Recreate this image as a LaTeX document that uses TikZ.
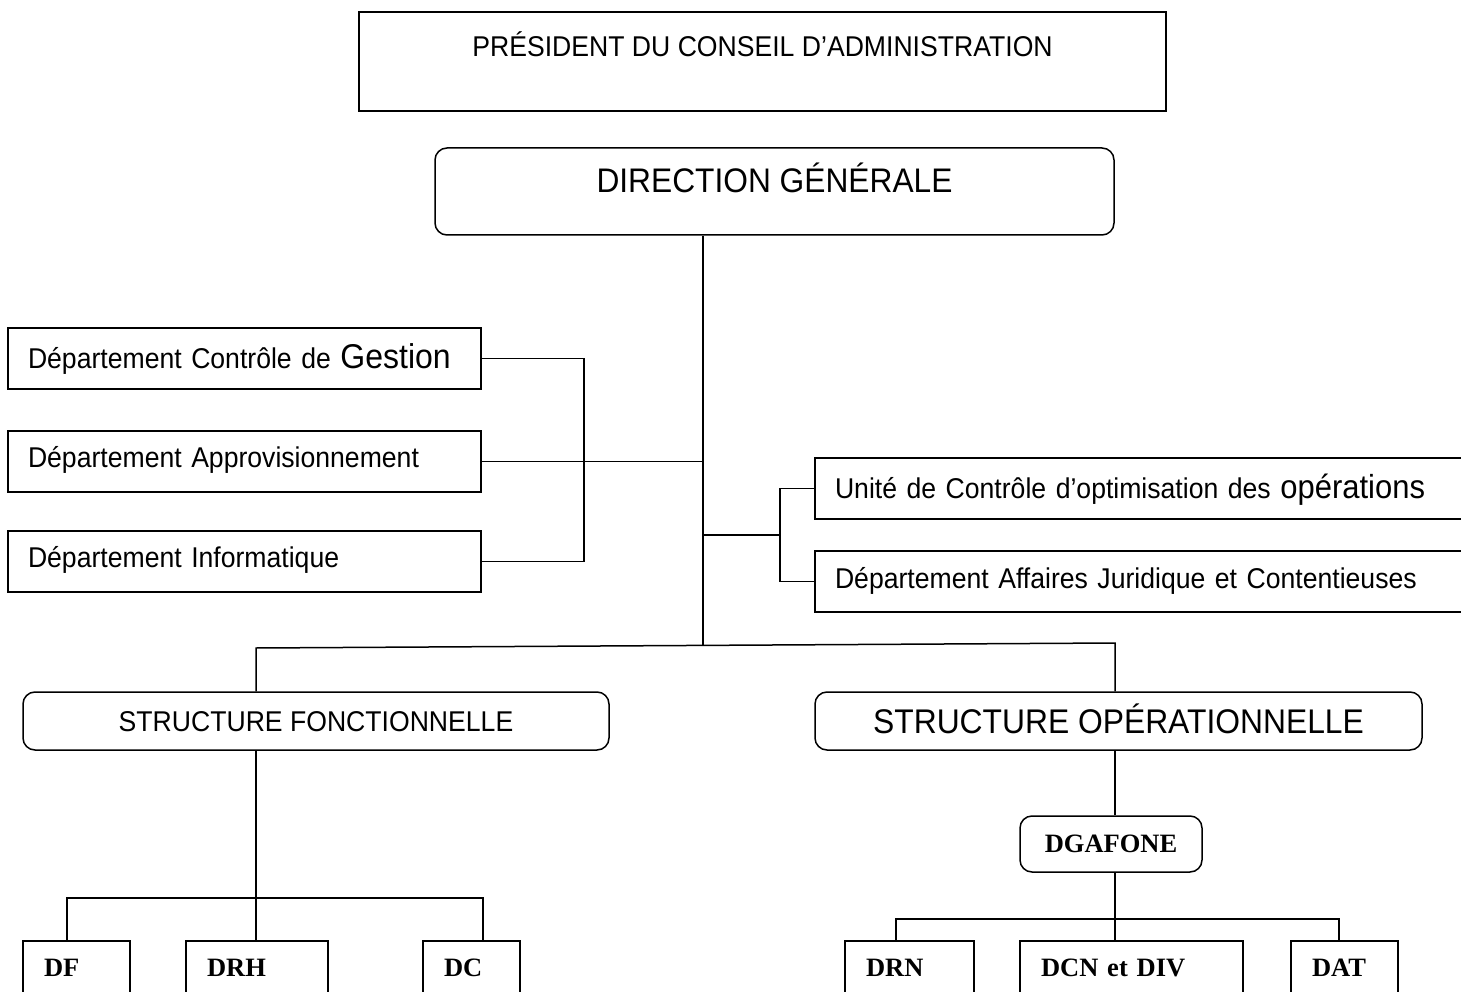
\documentclass[tikz,border=0pt]{standalone}
\usepackage{fontspec}
\setmainfont{Liberation Serif}
\setsansfont[FakeStretch=0.93]{Liberation Sans}
\usetikzlibrary{positioning,calc}

\tikzset{
  box/.style={draw, line width=1.5pt, inner sep=0pt, font=\sffamily\fontsize{28.6}{34}\selectfont, text height=20.5pt, text depth=0pt},
  rbox/.style={box, rounded corners=12pt},
  sidebox/.style={box, minimum height=61pt, text width=#1, align=left, inner xsep=20pt},
  dirbox/.style={draw, line width=1.5pt, inner sep=0pt, font=\bfseries\fontsize{26.5}{30}\selectfont, text height=17.5pt, text depth=0pt, minimum height=54pt, text width=#1, align=left, inner xsep=21pt},
  link/.style={line width=1.5pt},
}

\begin{document}
\begin{tikzpicture}[x=1pt, y=-1pt]

  \useasboundingbox (0,0) rectangle (1461,992);
  \clip (0,0) rectangle (1461,992);

  \node[box, minimum width=807pt, minimum height=99pt, text depth=31pt] (pca) at (762.5,61.5) {PRÉSIDENT DU CONSEIL D’ADMINISTRATION};
  \node[rbox, minimum width=679pt, minimum height=87pt, font=\sffamily\fontsize{34.1}{40}\selectfont, text height=24.4pt, text depth=22.7pt] (dg) at (774.5,191.5) {DIRECTION GÉNÉRALE};

  \node[sidebox=433pt] (gestion) at (244.5,358.5) {Département Contrôle de {\fontsize{34.4}{40}\selectfont Gestion}};
  \node[sidebox=433pt, text depth=9pt] (appro) at (244.5,461.5) {Département Approvisionnement};
  \node[sidebox=433pt, text depth=9pt] (info) at (244.5,561.5) {Département Informatique};

  \node[sidebox=640pt] (unite) at (1155,488.5) {Unité de Contrôle d’optimisation des {\fontsize{33.3}{40}\selectfont opérations}};
  \node[sidebox=640pt, text depth=7pt] (juri) at (1155,581.5) {Département Affaires Juridique et Contentieuses};

  \node[rbox, minimum width=586pt, minimum height=58pt] (sf) at (316,721) {STRUCTURE FONCTIONNELLE};
  \node[rbox, minimum width=607pt, minimum height=58pt, font=\sffamily\fontsize{34.2}{40}\selectfont, text height=24.5pt] (so) at (1118.5,721) {STRUCTURE OPÉRATIONNELLE};

  \node[rbox, minimum width=182pt, minimum height=56pt, font=\bfseries\fontsize{26.5}{30}\selectfont, text height=17.5pt] (dgafone) at (1111,844) {DGAFONE};

  \node[dirbox=65pt] (df) at (76.5,968) {DF};
  \node[dirbox=100pt] (drh) at (257,968) {DRH};
  \node[dirbox=55pt] (dc) at (471.5,968) {DC};
  \node[dirbox=87pt] (drn) at (909.5,968) {DRN};
  \node[dirbox=181pt] (dcn) at (1131.5,968) {DCN et DIV};
  \node[dirbox=65pt] (dat) at (1344.5,968) {DAT};

  \coordinate (trunk) at (703,646);
  \coordinate (rjoin) at (780,535);
  \coordinate (barL) at (256,648);
  \coordinate (barR) at (1115,643);
  \coordinate (fbar) at (256,898);
  \coordinate (dfx) at (67,898);
  \coordinate (dcx) at (483,898);
  \coordinate (obar) at (1115,919);
  \coordinate (drnx) at (896,919);
  \coordinate (datx) at (1339,919);

  \draw[link] (dg.south -| trunk) -- (trunk);
  \draw[link] (gestion.east) -- ++(102,0) |- (info.east);
  \draw[link] (appro.east) -- (appro.east -| trunk);
  \draw[link] (rjoin -| trunk) -- (rjoin);
  \draw[link] (unite.west) -| (rjoin) |- (juri.west);

  \draw[link] (sf.north -| barL) -- (barL) -- (barR) -- (so.north -| barR);

  \draw[link] (sf.south -| fbar) -- (drh.north -| fbar);
  \draw[link] (df.north -| dfx) -- (dfx) -- (dcx) -- (dc.north -| dcx);

  \draw[link] (so.south -| obar) -- (dgafone.north -| obar);
  \draw[link] (dgafone.south -| obar) -- (dcn.north -| obar);
  \draw[link] (drn.north -| drnx) -- (drnx) -- (datx) -- (dat.north -| datx);

\end{tikzpicture}
\end{document}
